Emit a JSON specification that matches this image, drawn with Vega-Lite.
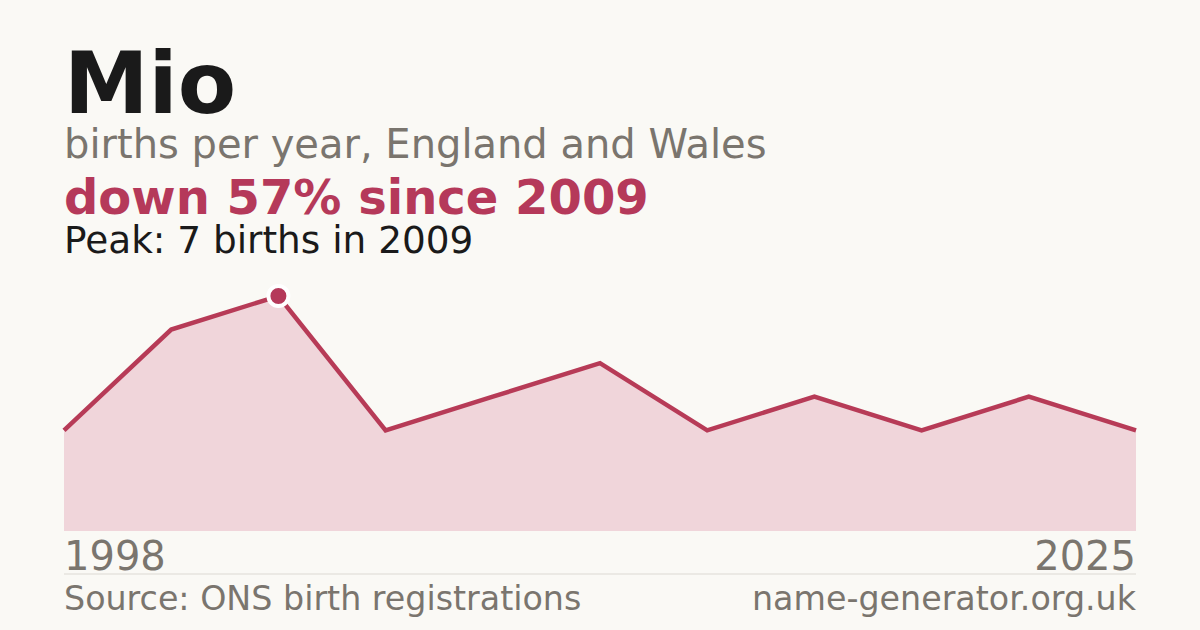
{
  "$schema": "https://vega.github.io/schema/vega-lite/v6.json",
  "width": 1072,
  "height": 630,
  "autosize": {"type": "none"},
  "padding": {"left": 64, "right": 64, "top": 0, "bottom": 0},
  "background": "#faf9f5",
  "config": {
    "view": {"stroke": null},
    "font": "DejaVu Sans",
    "text": {"font": "DejaVu Sans", "baseline": "alphabetic"}
  },
  "datasets": {
    "births": [
      {"i": 0, "births": 3},
      {"i": 1, "births": 6},
      {"i": 2, "births": 7},
      {"i": 3, "births": 3},
      {"i": 4, "births": 4},
      {"i": 5, "births": 5},
      {"i": 6, "births": 3},
      {"i": 7, "births": 4},
      {"i": 8, "births": 3},
      {"i": 9, "births": 4},
      {"i": 10, "births": 3}
    ],
    "one": [{}]
  },
  "encoding": {
    "x": {"type": "quantitative", "scale": {"domain": [0, 10], "nice": false, "zero": false}, "axis": null},
    "y": {"type": "quantitative", "scale": {"domain": [-2.949, 15.817], "nice": false, "zero": false}, "axis": null}
  },
  "layer": [
    {
      "data": {"name": "births"},
      "mark": {"type": "area", "color": "#f0d5da"},
      "encoding": {
        "x": {"field": "i", "type": "quantitative"},
        "y": {"field": "births", "type": "quantitative", "stack": null}
      }
    },
    {
      "data": {"name": "births"},
      "mark": {"type": "line", "color": "#b73b57", "strokeWidth": 4.5, "strokeJoin": "miter"},
      "encoding": {
        "x": {"field": "i", "type": "quantitative"},
        "y": {"field": "births", "type": "quantitative"}
      }
    },
    {
      "data": {"name": "births"},
      "transform": [{"filter": "datum.births == 7"}],
      "mark": {"type": "point", "filled": true, "color": "#b5395a", "stroke": "#ffffff", "strokeWidth": 4, "size": 400, "opacity": 1},
      "encoding": {
        "x": {"field": "i", "type": "quantitative"},
        "y": {"field": "births", "type": "quantitative"}
      }
    },
    {
      "data": {"name": "one"},
      "mark": {"type": "text", "text": "Mio", "align": "left", "fontSize": 85, "fontWeight": "bold", "color": "#1a1a1a"},
      "encoding": {"x": {"datum": 0}, "y": {"datum": 12.451}}
    },
    {
      "data": {"name": "one"},
      "mark": {"type": "text", "text": "births per year, England and Wales", "align": "left", "fontSize": 40, "color": "#7a756e"},
      "encoding": {"x": {"datum": 0}, "y": {"datum": 11.111}}
    },
    {
      "data": {"name": "one"},
      "mark": {"type": "text", "text": "down 57% since 2009", "align": "left", "fontSize": 48, "fontWeight": "bold", "color": "#b5395a"},
      "encoding": {"x": {"datum": 0}, "y": {"datum": 9.443}}
    },
    {
      "data": {"name": "one"},
      "mark": {"type": "text", "text": "Peak: 7 births in 2009", "align": "left", "fontSize": 37.4, "color": "#1a1a1a"},
      "encoding": {"x": {"datum": 0}, "y": {"datum": 8.281}}
    },
    {
      "data": {"name": "one"},
      "mark": {"type": "text", "text": "1998", "align": "left", "fontSize": 40, "color": "#7a756e"},
      "encoding": {"x": {"datum": 0}, "y": {"datum": -1.162}}
    },
    {
      "data": {"name": "one"},
      "mark": {"type": "text", "text": "2025", "align": "right", "fontSize": 40, "color": "#7a756e"},
      "encoding": {"x": {"datum": 10}, "y": {"datum": -1.162}}
    },
    {
      "data": {"name": "one"},
      "mark": {"type": "rule", "color": "#dcd9d3", "strokeWidth": 1},
      "encoding": {"x": {"datum": 0}, "x2": {"datum": 10}, "y": {"datum": -1.281}}
    },
    {
      "data": {"name": "one"},
      "mark": {"type": "text", "text": "Source: ONS birth registrations", "align": "left", "fontSize": 33.3, "color": "#7a756e"},
      "encoding": {"x": {"datum": 0}, "y": {"datum": -2.35}}
    },
    {
      "data": {"name": "one"},
      "mark": {"type": "text", "text": "name-generator.org.uk", "align": "right", "fontSize": 33.3, "color": "#7a756e"},
      "encoding": {"x": {"datum": 10}, "y": {"datum": -2.35}}
    }
  ]
}
